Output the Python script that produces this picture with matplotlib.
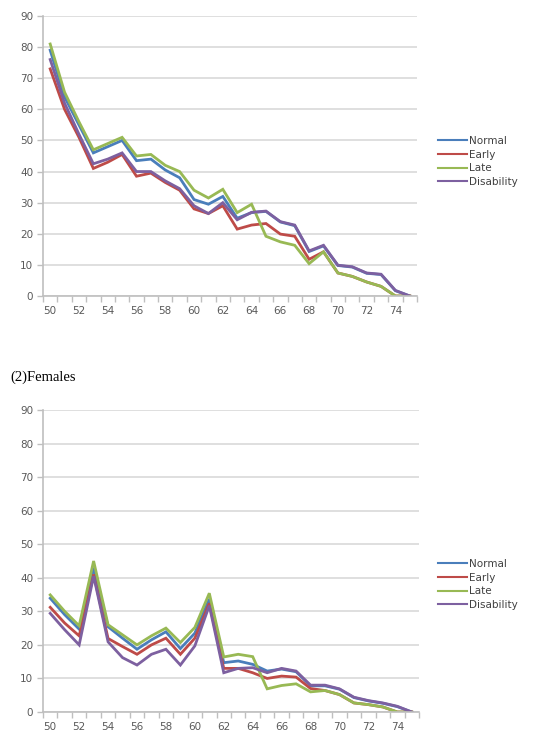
import numpy as np
import matplotlib
matplotlib.use("Agg")
import matplotlib.pyplot as plt
from matplotlib.ticker import FixedLocator, NullFormatter

# Ages on the category axis
ages = list(range(50, 76))
series_names = ["Normal", "Early", "Late", "Disability"]
colors = ["#4A7EBB", "#BE4B48", "#98B954", "#7D60A0"]

# (1) Males
male_normal = [79, 64, 55, 46, 48, 50, 43.5, 44, 40.5, 38, 31, 29.5, 32, 25, 26.8, 27.2,
               23.8, 22.6, 14.3, 16.1, 9.8, 9.3, 7.3, 6.9, 1.7, 0]
male_early = [73, 60, 51, 41, 43, 45.5, 38.5, 39.5, 36.5, 34, 28, 26.5, 29, 21.5, 22.8, 23.3,
              19.9, 19.2, 11.8, 14.2, 7.4, 6.3, 4.5, 3.1, 0, 0]
male_late = [81, 65.5, 56, 47, 49, 51, 45, 45.5, 42, 40, 34, 31.5, 34.3, 26.8, 29.5, 19.2,
             17.4, 16.3, 10.4, 14.2, 7.4, 6.3, 4.5, 3.1, 0, 0]
male_disab = [76, 62, 52, 42.5, 44, 46, 40, 40, 37, 34.5, 29, 26.5, 30, 24.5, 26.9, 27.3,
              23.9, 22.8, 14.5, 16.3, 9.9, 9.4, 7.4, 7.0, 1.8, 0]

# (2) Females
fem_normal = [33.9, 29, 24.7, 43, 25.4, 22, 18.7, 21.5, 23.9, 18.9, 23.5, 33.7, 14.7, 15.2,
              14.2, 12.2, 12.8, 12.0, 7.8, 7.8, 6.8, 4.3, 3.3, 2.6, 1.6, 0]
fem_early = [31.2, 26.5, 22.7, 41, 21.9, 19.5, 17.2, 20, 22, 17.2, 22, 32.4, 13, 13, 11.7,
             10, 10.7, 10.4, 7, 6.4, 5.2, 2.7, 2.2, 1.5, 0, 0]
fem_late = [34.9, 30, 25.7, 45, 26, 23, 20, 22.7, 25, 20.7, 25.2, 35.4, 16.4, 17.2, 16.5,
            6.9, 7.9, 8.4, 6, 6.4, 5.2, 2.7, 2.2, 1.5, 0, 0]
fem_disab = [29.4, 24.5, 20, 40.5, 20.9, 16.2, 14, 17.2, 18.7, 14, 19.7, 31.7, 11.7, 13,
             13.2, 11.7, 13, 12.2, 8, 8, 6.9, 4.4, 3.4, 2.7, 1.7, 0]

W, H = 534, 744
fig = plt.figure(figsize=(W / 100, H / 100), dpi=100)

grid_c = "#D9D9D9"
axis_c = "#BFBFBF"
label_c = "#595959"


def px_axes(left, top, right, bottom):
    return fig.add_axes([left / W, 1 - bottom / H, (right - left) / W, (bottom - top) / H])


def style_axes(ax):
    ax.set_xlim(49.5, 75.5)
    ax.set_ylim(0, 90)
    ax.set_yticks(np.arange(0, 91, 10))
    ax.yaxis.grid(True, color=grid_c, lw=1.2)
    ax.set_axisbelow(True)
    for s in ["top", "right"]:
        ax.spines[s].set_visible(False)
    for s in ["left", "bottom"]:
        ax.spines[s].set_color(axis_c)
        ax.spines[s].set_linewidth(1.2)
    # tick marks between categories, labels every second age
    ax.xaxis.set_major_locator(FixedLocator(np.arange(49.5, 76, 1)))
    ax.xaxis.set_major_formatter(NullFormatter())
    ax.xaxis.set_minor_locator(FixedLocator(ages[::2]))
    ax.set_xticklabels([str(a) for a in ages[::2]], minor=True)
    ax.tick_params(axis="x", which="major", length=4, color=axis_c, width=1)
    ax.tick_params(axis="x", which="minor", length=0, pad=7, labelsize=7.5, labelcolor=label_c)
    ax.tick_params(axis="y", length=4, color=axis_c, width=1, pad=3, labelsize=7.5,
                   labelcolor=label_c)


def draw(ax, data, legend_top):
    lines = []
    for vals, name, c in zip(data, series_names, colors):
        ln, = ax.plot(ages, vals, color=c, lw=2.0, label=name, solid_joinstyle="miter")
        lines.append(ln)
    leg = fig.legend(handles=lines, loc="upper left", bbox_to_anchor=(438 / W, 1 - legend_top / H),
                     frameon=False, fontsize=7.5, handlelength=2.8, handletextpad=0.2,
                     labelspacing=0.35, borderpad=0, borderaxespad=0, labelcolor="#404040")
    for h in leg.get_lines():
        h.set_linewidth(1.5)


ax1 = px_axes(43, 16, 417, 296)
style_axes(ax1)
draw(ax1, [male_normal, male_early, male_late, male_disab], 136)

fig.text(10 / W, 1 - 377 / H, "(2)Females", family="Liberation Serif", fontsize=10.5,
         va="center", ha="left")

ax2 = px_axes(43, 410, 419, 712)
style_axes(ax2)
draw(ax2, [fem_normal, fem_early, fem_late, fem_disab], 559)

fig.savefig("out.png", dpi=100)
